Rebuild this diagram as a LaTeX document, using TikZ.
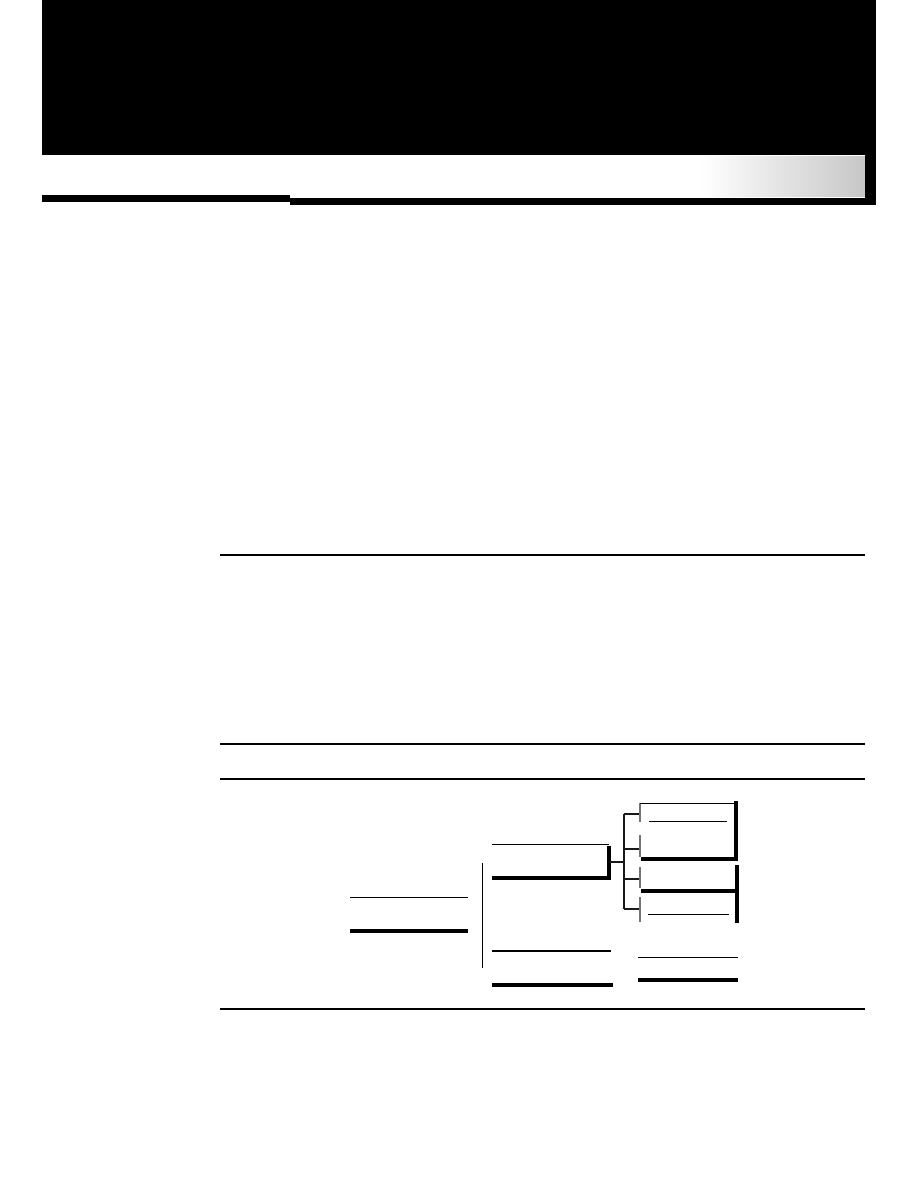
\documentclass[tikz,border=0pt]{standalone}
\usetikzlibrary{positioning}
\begin{document}
\begin{tikzpicture}[
                x=0.5pt, y=-0.5pt, % one unit per pixel of the page
                rule/.style={draw, line width=0.75pt}, % section rules
                thinline/.style={draw, line width=0.5pt}, % thin blank lines
                midline/.style={draw, line width=0.85pt},
                thickline/.style={draw, line width=1.6pt}, % heavy blank lines
                bracket/.style={draw, line width=0.55pt, black!90}
                ]
                \useasboundingbox (0,0) rectangle (918,1188);
                % header band
                \fill[black] (42,0) rectangle (876,155);
                \shade[left color=white, right color=black!22] (700,156) rectangle (865,196);
                \fill[black] (865,155) rectangle (876,205);
                \fill[black] (42,195) rectangle (290,202);
                \fill[black] (290,198) rectangle (876,205);
                % section rules
                \foreach \y in {555,744,779,1009}
                   \draw[rule] (220,\y) -- (865,\y);
                % left pair
                \draw[thinline] (350,897) -- (468,897);
                \draw[thickline] (350,931) -- (468,931);
                \draw[thinline] (482,863) -- (482,968);
                % middle column
                \draw[thinline] (492,844) -- (609,844);
                \draw[thickline] (492,878) -- (610,878);
                \coordinate (mid) at (609,862);
                \draw[thickline] (609,846) -- (609,880);
                \draw[midline] (492,951) -- (611,951);
                \draw[thickline] (492,985) -- (613,985);
                % fork to the right column
                \coordinate (fork) at (624,862);
                \draw[bracket] (mid) -- (fork);
                \draw[bracket] (624,814) -- (624,909);
                \foreach \y/\a/\b in {814/803/822, 849/835/857, 879/867/888, 909/897/922}{
                   \draw[bracket] (624,\y) -- (640,\y);
                   \draw[bracket, black!55] (640,\a) -- (640,\b);
                }
                % upper box
                \draw[thinline] (640,803) -- (737,803);
                \draw[thinline] (649,821) -- (727,821);
                \draw[thickline] (736,801) -- (736,860);
                \draw[thickline] (641,859) -- (738,859);
                % lower box
                \draw[thickline] (737,865) -- (737,923);
                \draw[thickline] (641,891) -- (737,891);
                \draw[thinline] (648,914) -- (729,914);
                % right pair
                \draw[thinline] (638,957) -- (738,957);
                \draw[thickline] (638,980) -- (738,980);
            \end{tikzpicture}
\end{document}
